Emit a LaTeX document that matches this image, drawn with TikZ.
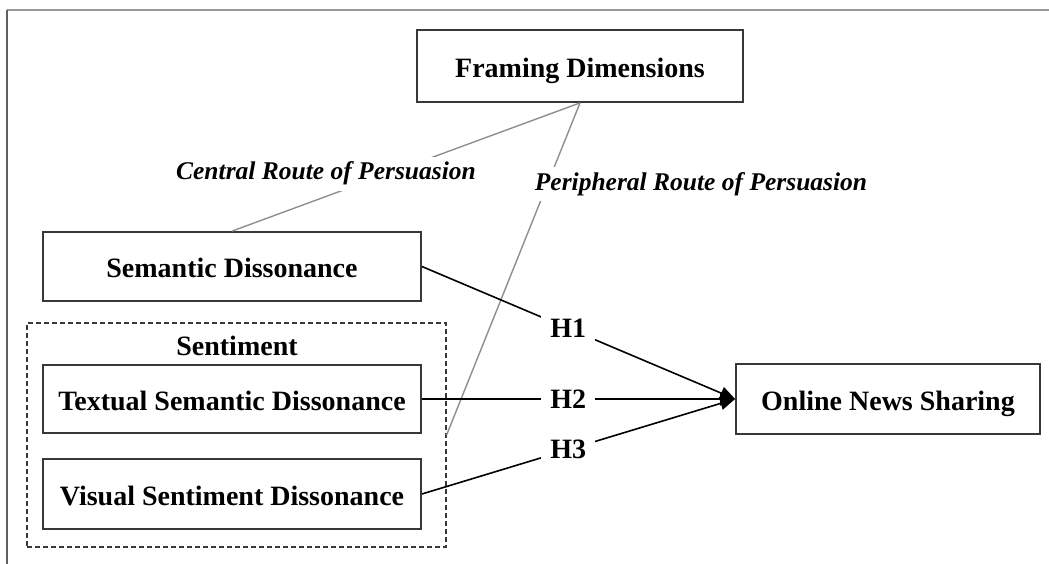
\documentclass[tikz,border=0pt]{standalone}
\usepackage{fontspec}
\setmainfont{Liberation Serif}
\usetikzlibrary{arrows.meta}
\definecolor{boxline}{HTML}{383838}
\definecolor{routeline}{HTML}{8E8E8E}
\definecolor{frameline}{HTML}{9A9A9A}
\tikzset{
  box/.style={draw=boxline, line width=1.8pt, minimum width=378pt, minimum height=69pt,
    inner sep=0pt, text height=22.5pt, text depth=0pt, font=\fontsize{28}{32}\selectfont\bfseries},
  lbl/.style={font=\fontsize{28}{32}\selectfont\bfseries, inner sep=0pt, text height=22.5pt, text depth=0pt},
  hlbl/.style={font=\fontsize{28}{32}\selectfont\bfseries, fill=white, inner sep=9pt},
  route/.style={draw=routeline, line width=1.4pt},
  routelbl/.style={font=\fontsize{25.5}{30}\selectfont\bfseries\itshape, fill=white, inner sep=5pt,
    text height=18pt, text depth=6pt},
  hyp/.style={draw=black, line width=1.6pt},
  hyparrow/.style={hyp, -{Triangle[length=15pt,width=13pt]}},
  groupbox/.style={draw=boxline, dashed, dash pattern=on 5pt off 3pt, line width=1.2pt,
    minimum width=419pt, minimum height=224pt, inner sep=0pt}
}
\begin{document}
\begin{tikzpicture}[x=1pt,y=-1pt]
\useasboundingbox (0,0) rectangle (1049,564);
% outer frame (top and left edges)
\coordinate (ftl) at (7,10);
\coordinate (ftr) at (1049,10);
\coordinate (fbl) at (7,564);
\draw[frameline, line width=2pt] (ftl) -- (ftr);
\draw[boxline!80, line width=1.4pt] (ftl) -- (fbl);

% boxes
\node[groupbox] (sentbox) at (236.5,435) {};
\node[box, minimum width=326pt, minimum height=72pt] (fd) at (580,66) {Framing Dimensions};
\node[box] (sem) at (232,266.5) {Semantic Dissonance};
\node[box, minimum height=68pt] (tsd) at (232,399) {Textual Semantic Dissonance};
\node[box, minimum height=70pt] (vsd) at (232,494) {Visual Sentiment Dissonance};
\node[box, minimum width=304pt, minimum height=70pt] (ons) at (888,399) {Online News Sharing};
\node[lbl] (sentlbl) at (237,344) {Sentiment};

% routes of persuasion
\draw[route] (fd.south) -- (sem.north);
\draw[route] (fd.south) -- (sentbox.east);
\node[routelbl] (central) at (326,174) {Central Route of Persuasion};
\node[routelbl] (peripheral) at (701,184) {Peripheral Route of Persuasion};

% hypotheses
\draw[hyparrow] (sem.east) -- node[hlbl, pos=0.467] (h1) {H1} (ons.west);
\draw[hyparrow] (tsd.east) -- node[hlbl, pos=0.467] (h2) {H2} (ons.west);
\draw[hyparrow] (vsd.east) -- node[hlbl, pos=0.467] (h3) {H3} (ons.west);
\end{tikzpicture}
\end{document}
